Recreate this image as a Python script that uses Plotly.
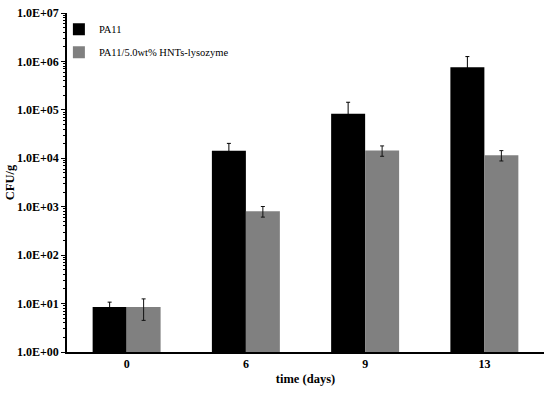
import plotly.graph_objects as go

days = ['0', '6', '9', '13']
pa11 = [8.5, 14300, 83500, 760000]
pa11_err = [2.2, 6000, 60000, 500000]
hnt = [8.5, 810, 14500, 11600]
hnt_err = [4.0, 200, 3500, 2800]
ytick_vals = [1, 10, 100, 1e3, 1e4, 1e5, 1e6, 1e7]
ytick_text = ['1.0E+00', '1.0E+01', '1.0E+02', '1.0E+03', '1.0E+04', '1.0E+05', '1.0E+06', '1.0E+07']
minor_vals = [m * 10 ** k for k in range(7) for m in range(2, 10)]

serif = 'Liberation Serif, Times New Roman, serif'

fig = go.Figure()
fig.add_trace(go.Bar(name='PA11', x=days, y=pa11, legendgroup='a',
    marker=dict(color='#000000', line=dict(width=0)),
    error_y=dict(type='data', array=pa11_err, color='#000000', thickness=1, width=2)))
fig.add_trace(go.Bar(name='PA11/5.0wt% HNTs-lysozyme', x=days, y=hnt, legendgroup='b',
    marker=dict(color='#808080', line=dict(width=0)),
    error_y=dict(type='data', array=hnt_err, color='#111111', thickness=1, width=2)))
# invisible trace so the minor-tick axis gets drawn
fig.add_trace(go.Scatter(x=days[:1], y=ytick_vals[:1], yaxis='y2', mode='markers',
    marker=dict(opacity=0), showlegend=False, hoverinfo='skip'))

fig.update_layout(
    width=550, height=393,
    margin=dict(l=67, r=6, t=13, b=41),
    plot_bgcolor='white', paper_bgcolor='white',
    barmode='group', bargap=0.43, bargroupgap=0,
    font=dict(family=serif, color='black'),
    legend=dict(x=-0.017, y=0.995, xanchor='left', yanchor='top',
                font=dict(family=serif, size=10.5), tracegroupgap=4,
                itemwidth=30, bgcolor='rgba(0,0,0,0)'),
    # overlay axis used only for the minor log ticks
    yaxis2=dict(type='log', range=[0, 7], overlaying='y', side='left', anchor='x',
                tickmode='array', tickvals=minor_vals, ticks='outside', ticklen=3,
                tickcolor='black', tickwidth=1, showticklabels=False, showgrid=False,
                showline=False, zeroline=False, automargin=False),
)
fig.update_xaxes(showline=True, linecolor='black', linewidth=1.5, ticks='',
    automargin=False,
    tickfont=dict(family=serif, size=12, weight='bold'),
    title=dict(text='time (days)', font=dict(family=serif, size=12.5, weight='bold'), standoff=4))
fig.update_layout(yaxis=dict(type='log', range=[0, 7], showline=True, linecolor='black', linewidth=1.5,
    automargin=False,
    showgrid=False, ticks='outside', ticklen=4, tickcolor='black',
    tickvals=ytick_vals, ticktext=ytick_text,
    tickfont=dict(family=serif, size=12, weight='bold'),
    title=dict(text='CFU/g', font=dict(family=serif, size=12.5, weight='bold'), standoff=0)))

fig.write_html('out.html', config={'displayModeBar': False},
               post_script="document.body.style.margin='0';")
